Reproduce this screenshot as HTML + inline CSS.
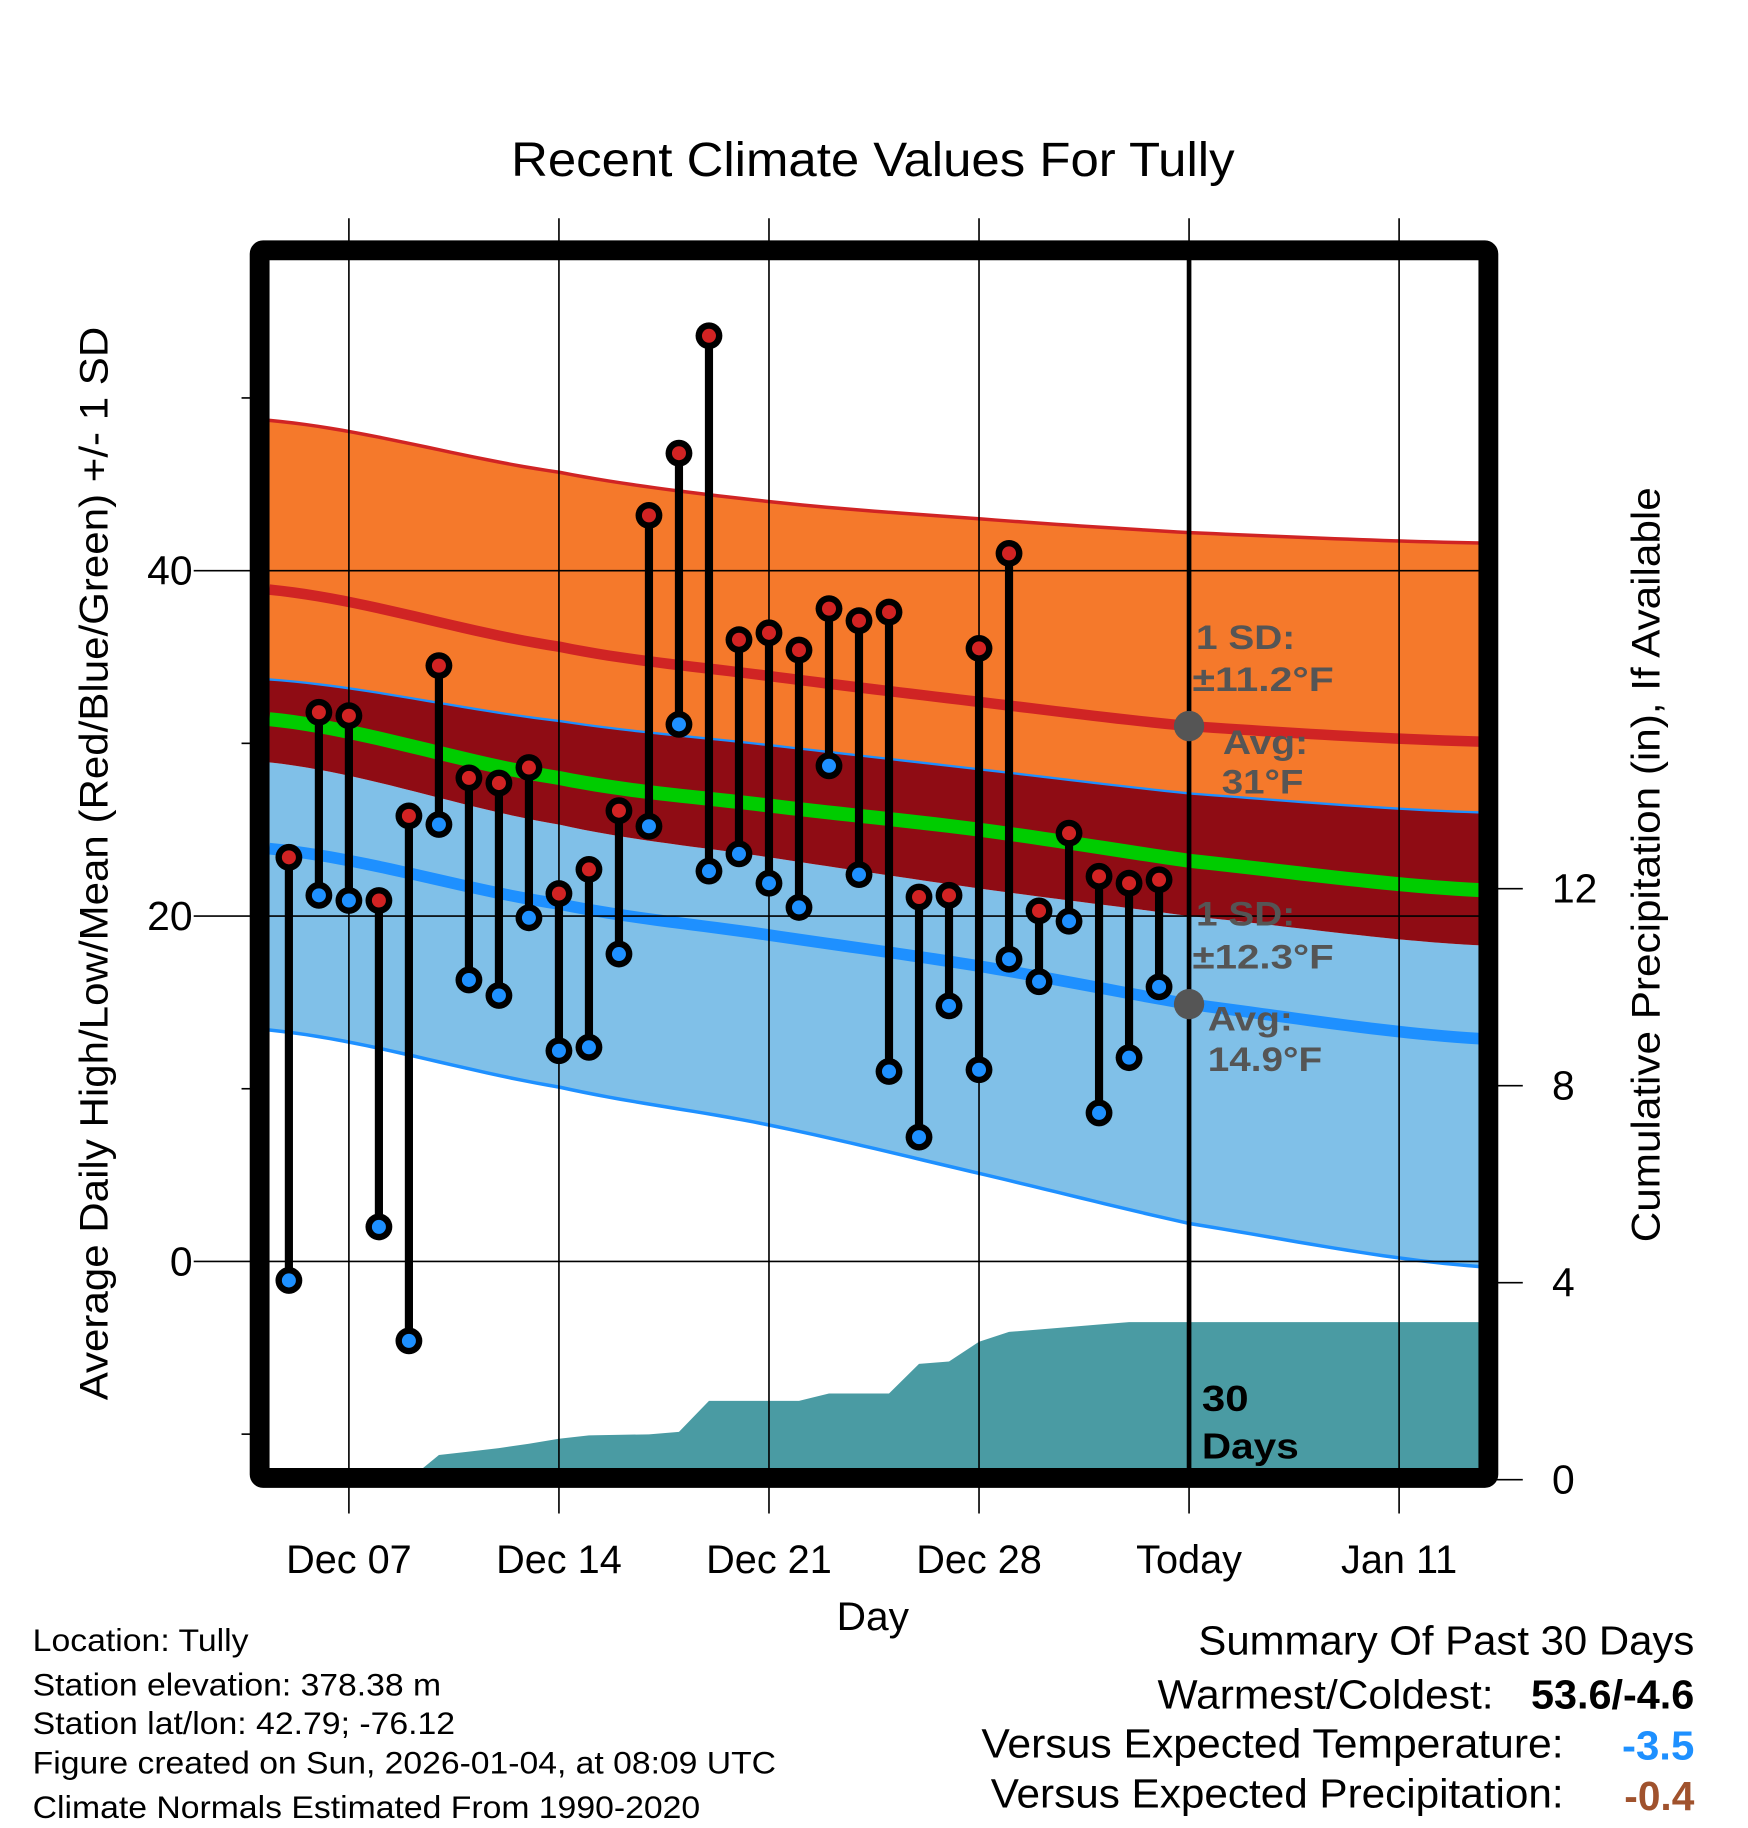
<!DOCTYPE html>
<html><head><meta charset="utf-8"><style>
html,body{margin:0;padding:0;background:#fff;}
svg{display:block;font-family:"Liberation Sans",Arial,sans-serif;}
</style></head><body>
<svg id="chart" width="1748" height="1828" viewBox="0 0 1498 1566.5" xmlns="http://www.w3.org/2000/svg">
<rect x="0" y="0" width="1498" height="1566.5" fill="#fff"/>
<g id="fills"></g>
<g id="grid"></g>
<g id="marks"></g>
<g id="frame"></g>
<g id="texts"></g>
</svg>
<script>
// ---- data ----
const days = ["Dec 05","Dec 06","Dec 07","Dec 08","Dec 09","Dec 10","Dec 11","Dec 12","Dec 13","Dec 14","Dec 15","Dec 16","Dec 17","Dec 18","Dec 19","Dec 20","Dec 21","Dec 22","Dec 23","Dec 24","Dec 25","Dec 26","Dec 27","Dec 28","Dec 29","Dec 30","Dec 31","Jan 01","Jan 02","Jan 03"];
const highs = [23.4,31.8,31.6,20.9,25.8,34.5,28.0,27.7,28.6,21.3,22.7,26.1,43.2,46.8,53.6,36.0,36.4,35.4,37.8,37.1,37.6,21.1,21.2,35.5,41.0,20.3,24.8,22.3,21.9,22.1];
const lows = [-1.1,21.2,20.9,2.0,-4.6,25.3,16.3,15.4,19.9,12.2,12.4,17.8,25.2,31.1,22.6,23.6,21.9,20.5,28.7,22.4,11.0,7.2,14.8,11.1,17.5,16.2,19.7,8.6,11.8,15.9];
const normDays = [-2.65,7,14,21,28,37.7];
const hiSDtop = [48.7,45.7,44.0,43.0,42.2,41.6];
const hiAvg = [38.9,35.6,33.9,32.4,31.0,30.1];
const hiSDbot = [33.7,31.3,29.9,28.5,27.1,26.0];
const meanT = [31.4,28.0,26.4,25.0,23.2,21.5];
const loSDtop = [28.9,25.3,23.4,21.6,20.0,18.3];
const loAvg = [23.9,20.7,18.9,17.1,14.9,12.9];
const loSDbot = [13.4,10.1,7.9,5.1,2.2,-0.3];
const precipDays = [2,3,4,5,6,7,8,10,11,12,13,14,15,16,17,18,19,20,21,22,23,24,25,26,27,28,37.7];
const precipVals = [0,0.5,0.57,0.64,0.73,0.83,0.9,0.92,0.97,1.6,1.6,1.6,1.6,1.75,1.75,1.75,2.35,2.4,2.8,3.0,3.05,3.1,3.15,3.2,3.2,3.2,3.2];
const xTickLabels = ["Dec 07","Dec 14","Dec 21","Dec 28","Today","Jan 11"];
const yTicks = [0,20,40];
const yMinor = [-10,10,30,50];
const precipTicks = [0,4,8,12];

// ---- axes ----
const PL=231,PR=1268,PT=222,PB=1260;
const X = d => 299 + d*180/7;
const Y = t => 1081 - t*14.8;
const YP = p => 1268 - p*42.2;
const NS="http://www.w3.org/2000/svg";
function mk(tag, attrs, parent){const e=document.createElementNS(NS,tag);for(const k in attrs)e.setAttribute(k,attrs[k]);parent.appendChild(e);return e;}
const fills=document.getElementById('fills'),grid=document.getElementById('grid'),marks=document.getElementById('marks'),frame=document.getElementById('frame'),texts=document.getElementById('texts');

function interp(arrD, arrV, d){
  for(let i=0;i<arrD.length-1;i++){
    if(d<=arrD[i+1]){
      const p0=arrV[Math.max(0,i-1)],p1=arrV[i],p2=arrV[i+1],p3=arrV[Math.min(arrV.length-1,i+2)];
      const t=(d-arrD[i])/(arrD[i+1]-arrD[i]);
      return 0.5*((2*p1)+(-p0+p2)*t+(2*p0-5*p1+4*p2-p3)*t*t+(-p0+3*p1-3*p2+p3)*t*t*t);
    }
  }
  return arrV[arrV.length-1];
}
function curvePts(arr){const pts=[];for(let k=0;k<=100;k++){const d=normDays[0]+(normDays[5]-normDays[0])*k/100;pts.push([X(d),Y(interp(normDays,arr,d))]);}return pts;}
function band(a,b,fill,name){
  const pa=curvePts(a),pb=curvePts(b).reverse();
  const p=mk('polygon',{points:pa.concat(pb).map(q=>q.join(',')).join(' '),fill:fill},fills);
  
  
}
function line(arr,color,w,name){
  const p=mk('polyline',{points:curvePts(arr).map(q=>q.join(',')).join(' '),fill:'none',stroke:color,'stroke-width':w},fills);
  
  
}
band(hiSDtop,hiSDbot,'#F5792B','high-sd-band');
band(loSDtop,loSDbot,'#80C0E8','low-sd-band');
band(hiSDbot,loSDtop,'#8F0C14','overlap-band');
line(hiSDtop,'#D02424',3,'high-plus-sd-line');
line(hiAvg,'#D02424',9,'high-average-line');
line(hiSDbot,'#1E90FF',2,'high-minus-sd-line');
line(meanT,'#00CC00',12,'mean-line');
line(loAvg,'#1E90FF',10,'low-average-line');
line(loSDbot,'#1E90FF',3,'low-minus-sd-line');

{
  let pts=[[PL,YP(0)],[X(precipDays[0]),YP(0)]];
  for(let i=0;i<precipDays.length;i++){pts.push([X(precipDays[i]),YP(precipVals[i])]);}
  pts.push([PR,YP(precipVals[precipVals.length-1])],[PR,PB],[PL,PB]);
  const p=mk('polygon',{points:pts.map(q=>q.join(',')).join(' '),fill:'#4A9BA3'},fills);
  
  
}

xTickLabels.forEach((lab,i)=>{
  const x=X(i*7);
  const l=mk('line',{x1:x,x2:x,y1:187,y2:1297,stroke:'#000','stroke-width':1.4},grid);
  
  
  const t=mk('text',{x:x,y:1348,'font-size':34,'text-anchor':'middle',fill:'#000'},texts);
  t.textContent=lab;
  
  
});
yTicks.forEach(v=>{
  const y=Y(v);
  const l=mk('line',{x1:166,x2:PR,y1:y,y2:y,stroke:'#000','stroke-width':1.4},grid);
  
  
  const t=mk('text',{x:165,y:y+12,'font-size':35,'text-anchor':'end',fill:'#000'},texts);
  t.textContent=v;
  
  
});
yMinor.forEach(v=>{
  const y=Y(v);
  const l=mk('line',{x1:207,x2:216,y1:y,y2:y,stroke:'#000','stroke-width':1.4},grid);
  
  
});
precipTicks.forEach(v=>{
  const y=YP(v);
  const l=mk('line',{x1:1282,x2:1305,y1:y,y2:y,stroke:'#000','stroke-width':1.4},grid);
  
  
  const t=mk('text',{x:1330,y:y+12,'font-size':35,'text-anchor':'start',fill:'#000'},texts);
  t.textContent=v;
  
  
});

{
  const l=mk('line',{x1:X(28),x2:X(28),y1:PT,y2:PB,stroke:'#000','stroke-width':4},grid);
  
  
}

days.forEach((d,i)=>{
  const x=X(i-2);
  const s=mk('line',{x1:x,x2:x,y1:Y(highs[i]),y2:Y(lows[i]),stroke:'#000','stroke-width':7},marks);
  
  
  [[highs[i],'#D22323','high-marker'],[lows[i],'#1E90FF','low-marker']].forEach(([v,c,n])=>{
    const o=mk('circle',{cx:x,cy:Y(v),r:11.5,fill:'#000'},marks);
    
    
    const c2=mk('circle',{cx:x,cy:Y(v),r:6,fill:c},marks);
    
    
  });
});
[[31,'high-avg-dot'],[14.9,'low-avg-dot']].forEach(([v,n])=>{
  const c=mk('circle',{cx:X(28),cy:Y(v),r:13,fill:'#555'},marks);
  
  
});

{
  const r=mk('rect',{x:222.5,y:214.5,width:1053,height:1052,fill:'none',stroke:'#000','stroke-width':17,rx:3},frame);
  
  
}
</script>
<script>
(function(){
const NS="http://www.w3.org/2000/svg";const texts=document.getElementById('texts');
function T(str,x,y,size,name,opts){opts=opts||{};const t=document.createElementNS(NS,'text');t.setAttribute('x',x);t.setAttribute('y',y);t.setAttribute('font-size',size);t.setAttribute('fill',opts.fill||'#000');
if(opts.anchor)t.setAttribute('text-anchor',opts.anchor);if(opts.bold)t.setAttribute('font-weight','bold');if(opts.rot)t.setAttribute('transform',opts.rot);
if(opts.tl){t.setAttribute('textLength',opts.tl);t.setAttribute('lengthAdjust','spacingAndGlyphs');}


t.textContent=str;texts.appendChild(t);return t;}
T('Recent Climate Values For Tully',748,151,41,'chart-title',{anchor:'middle',tl:620});
T('Day',748,1397,34,'x-axis-title',{anchor:'middle',tl:62});
T('Average Daily High/Low/Mean (Red/Blue/Green) +/- 1 SD',92,740,34,'y-axis-title',{anchor:'middle',rot:'rotate(-90 92 740)',tl:920});
T('Cumulative Precipitation (in), If Available',1422,741,34,'right-axis-title',{anchor:'middle',rot:'rotate(-90 1422 741)',tl:647});
const g='#555';
T('1 SD:',1025,556,29,'high-sd-label',{bold:1,fill:g,tl:85});
T('±11.2°F',1022,592,29,'high-sd-value',{bold:1,fill:g,tl:121});
T('Avg:',1048,646,29,'high-avg-label',{bold:1,fill:g,tl:73});
T('31°F',1047,680,29,'high-avg-value',{bold:1,fill:g,tl:70});
T('1 SD:',1025,793,29,'low-sd-label',{bold:1,fill:g,tl:85});
T('±12.3°F',1022,830,29,'low-sd-value',{bold:1,fill:g,tl:121});
T('Avg:',1035,883,29,'low-avg-label',{bold:1,fill:g,tl:73});
T('14.9°F',1035,918,29,'low-avg-value',{bold:1,fill:g,tl:98});
T('30',1030,1209,31,'days-count-label',{bold:1,tl:40});
T('Days',1030,1250,31,'days-word-label',{bold:1,tl:83});
T('Location: Tully',28,1415,27,'location-text',{tl:185});
T('Station elevation: 378.38 m',28,1453,27,'elevation-text',{tl:350});
T('Station lat/lon: 42.79; -76.12',28,1486,27,'latlon-text',{tl:362});
T('Figure created on Sun, 2026-01-04, at 08:09 UTC',28,1520,27,'created-text',{tl:637});
T('Climate Normals Estimated From 1990-2020',28,1558,27,'normals-text',{tl:572});
T('Summary Of Past 30 Days',1027,1418,35,'summary-title',{tl:425});
T('Warmest/Coldest:',992,1464,35,'warmest-label',{tl:288});
T('53.6/-4.6',1312,1464,35,'warmest-value',{bold:1,tl:140});
T('Versus Expected Temperature:',841,1506,35,'temp-vs-label',{tl:499});
T('-3.5',1390,1508,35,'temp-vs-value',{bold:1,fill:'#1E90FF',tl:62});
T('Versus Expected Precipitation:',849,1549,35,'precip-vs-label',{tl:491});
T('-0.4',1392,1551,35,'precip-vs-value',{bold:1,fill:'#A0522D',tl:60});
})();
</script>
</body></html>
